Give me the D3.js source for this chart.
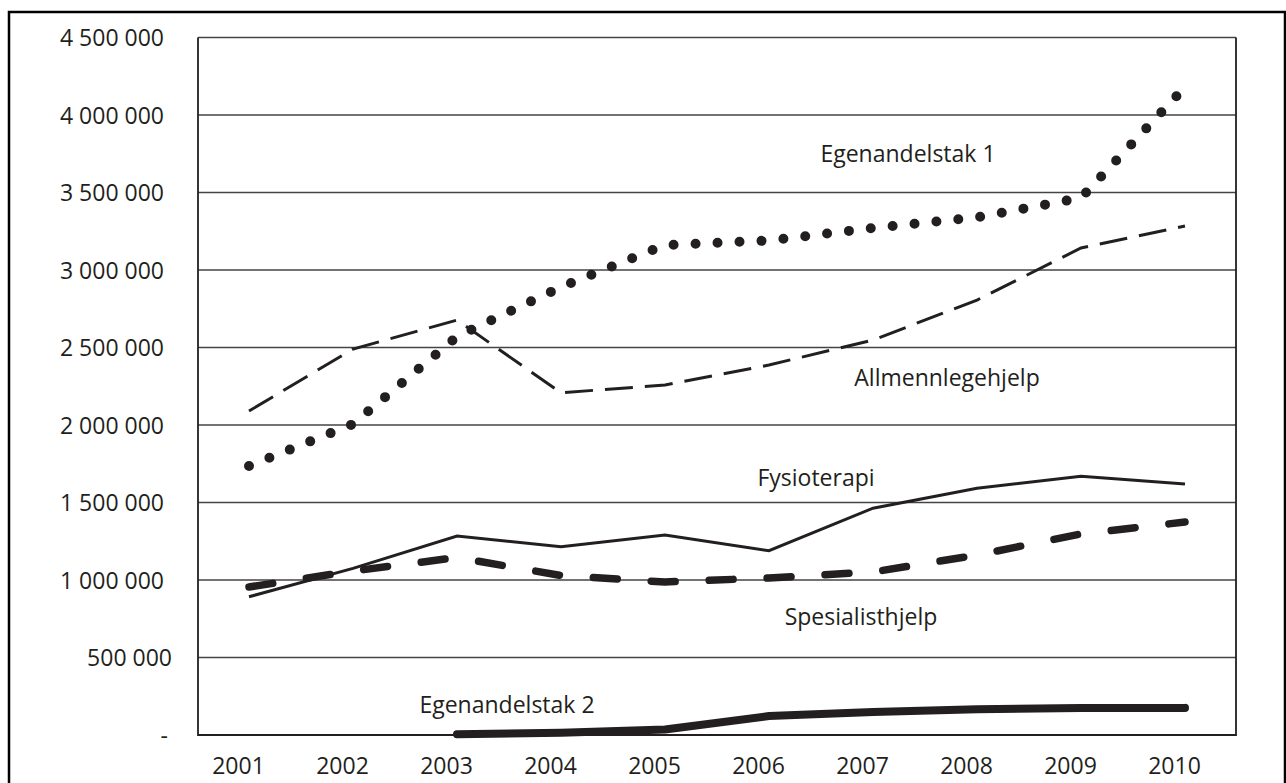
<!DOCTYPE html>
<html>
<head>
<meta charset="utf-8">
<script src="https://cdn.jsdelivr.net/npm/d3@7"></script>
<style>
  html, body { margin: 0; padding: 0; background: #fff; }
  svg { display: block; }
  text { font-family: "Open Sans", sans-serif; fill: #231f20; }
</style>
</head>
<body>
<svg id="chart" width="1286" height="783"></svg>
<script>
const years = ["2001","2002","2003","2004","2005","2006","2007","2008","2009","2010"];
const yTicks = [0, 500000, 1000000, 1500000, 2000000, 2500000, 3000000, 3500000, 4000000, 4500000];

const egenandelstak1 = [1735000, 2006000, 2570000, 2890000, 3161000, 3190000, 3271000, 3340000, 3465000, 4180000];
const allmennlegehjelp = [2090000, 2490000, 2677000, 2208000, 2258000, 2387000, 2548000, 2806000, 3142000, 3284000];
const fysioterapi = [892000, 1075000, 1284000, 1215000, 1290000, 1189000, 1463000, 1592000, 1670000, 1619000];
const spesialisthjelp = [955000, 1058000, 1145000, 1029000, 987000, 1013000, 1052000, 1161000, 1297000, 1374000];
const egenandelstak2 = [null, null, 5000, 15000, 35000, 122000, 148000, 166000, 174000, 175000];

const seriesNames = ["Egenandelstak 1", "Allmennlegehjelp", "Fysioterapi", "Spesialisthjelp", "Egenandelstak 2"];

const svg = d3.select("#chart");
const plot = { left: 198, right: 1236, top: 37.5, bottom: 735 };

const x = d3.scalePoint().domain(years).range([249, 1185]);
const y = d3.scaleLinear().domain([0, 4500000]).range([plot.bottom, plot.top]);

// outer frame
svg.append("rect").attr("x", 9).attr("y", 12).attr("width", 1276).attr("height", 800)
  .attr("fill", "none").attr("stroke", "#000").attr("stroke-width", 2.5);

// gridlines
svg.append("g").selectAll("line").data(yTicks.filter(d => d > 0)).join("line")
  .attr("x1", plot.left).attr("x2", plot.right)
  .attr("y1", d => y(d)).attr("y2", d => y(d))
  .attr("stroke", "#444").attr("stroke-width", 1.3);

// plot box (left, bottom, right)
svg.append("path")
  .attr("d", `M${plot.left},${y(4500000)}V${y(0)}H${plot.right}V${y(4500000)}`)
  .attr("fill", "none").attr("stroke", "#231f20").attr("stroke-width", 1.8);

// y axis labels
const fmt = v => v === 0 ? "-" : d3.format(",")(v).replace(/,/g, " ");
const yAxis = svg.append("g").attr("transform", `translate(${plot.left},0)`)
  .call(d3.axisLeft(y).tickValues(yTicks).tickFormat(fmt).tickSize(0));
yAxis.select(".domain").remove();
yAxis.selectAll("text")
  .attr("x", d => d === 0 ? -30 : (d < 1000000 ? -26 : -34))
  .attr("dy", "0.35em")
  .style("font-family", "'Open Sans', sans-serif")
  .style("font-size", "23px")
  .attr("fill", "#231f20");

// x axis labels
const xAxis = svg.append("g").attr("transform", `translate(-11,${plot.bottom})`)
  .call(d3.axisBottom(x).tickSize(0));
xAxis.select(".domain").remove();
xAxis.selectAll("text")
  .attr("y", 31).attr("dy", "0.35em")
  .style("font-family", "'Open Sans', sans-serif")
  .style("font-size", "23px")
  .attr("fill", "#231f20");

const line = d3.line()
  .defined(d => d != null)
  .x((d, i) => x(years[i]))
  .y(d => y(d));

const ink = "#231f20";

// Egenandelstak 2 - very thick solid
svg.append("path").datum(egenandelstak2)
  .attr("d", line).attr("fill", "none").attr("stroke", ink)
  .attr("stroke-width", 8).attr("stroke-linecap", "round").attr("stroke-linejoin", "round");

// Fysioterapi - thin solid
svg.append("path").datum(fysioterapi)
  .attr("d", line).attr("fill", "none").attr("stroke", ink)
  .attr("stroke-width", 3).attr("stroke-linejoin", "miter");

// Spesialisthjelp - thick dash
svg.append("path").datum(spesialisthjelp)
  .attr("d", line).attr("fill", "none").attr("stroke", ink)
  .attr("stroke-width", 7.5).attr("stroke-linecap", "round")
  .attr("stroke-dasharray", "24,34").attr("stroke-linejoin", "round");

// Allmennlegehjelp - long dash
svg.append("path").datum(allmennlegehjelp)
  .attr("d", line).attr("fill", "none").attr("stroke", ink)
  .attr("stroke-width", 3).attr("stroke-dasharray", "28,12");

// Egenandelstak 1 - round dots
svg.append("path").datum(egenandelstak1)
  .attr("d", line).attr("fill", "none").attr("stroke", ink)
  .attr("stroke-width", 10).attr("stroke-linecap", "round")
  .attr("stroke-dasharray", "0,22").attr("stroke-linejoin", "round");

// series labels
const labelPos = [
  { name: seriesNames[0], x: 908, y: 162 },
  { name: seriesNames[1], x: 947, y: 386 },
  { name: seriesNames[2], x: 816, y: 486 },
  { name: seriesNames[3], x: 861, y: 625 },
  { name: seriesNames[4], x: 507, y: 713 }
];
svg.append("g").selectAll("text").data(labelPos).join("text")
  .attr("x", d => d.x).attr("y", d => d.y)
  .attr("text-anchor", "middle")
  .style("font-size", "23px")
  .text(d => d.name);
</script>
</body>
</html>
